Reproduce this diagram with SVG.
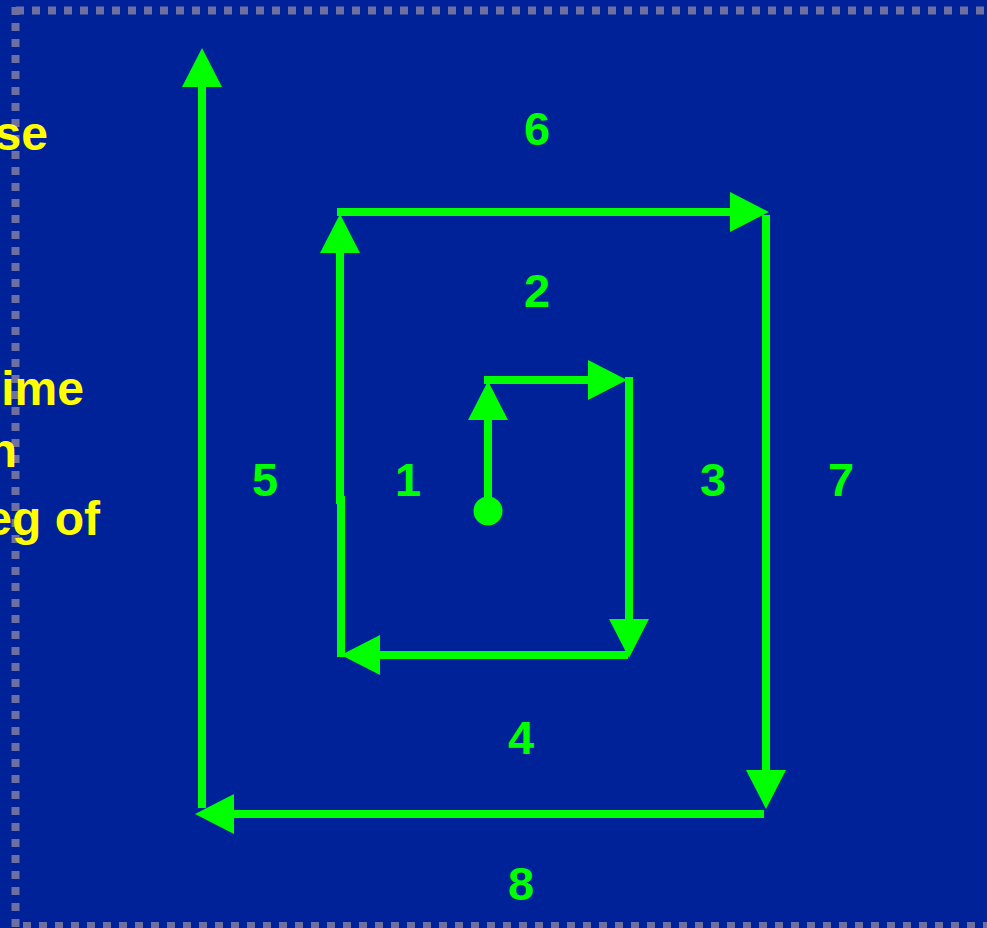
<svg xmlns="http://www.w3.org/2000/svg" width="987" height="928" viewBox="0 0 987 928">
<defs>
<style>
.bd{stroke:#7070A0;stroke-width:8;stroke-dasharray:8 8;fill:none}
.ln{stroke:#00FF00;stroke-width:8;fill:none;marker-end:url(#ah)}
.num{font-family:"Liberation Sans",Arial,sans-serif;font-weight:bold;font-size:47px;fill:#00FF00;text-anchor:middle}
.yt{font-family:"Liberation Sans",Arial,sans-serif;font-weight:bold;font-size:48px;fill:#FFFF00;text-anchor:end}
</style>
<marker id="ah" markerUnits="userSpaceOnUse" markerWidth="40" markerHeight="40" viewBox="0 0 40 40" refX="18" refY="20" orient="auto">
<path d="M0,0 L39,20 L0,40 Z" fill="#00FF00"/>
</marker>
</defs>
<rect x="0" y="0" width="987" height="928" fill="#002299"/>
<g id="border">
<line class="bd" x1="16" y1="10.5" x2="1000" y2="10.5"/>
<line class="bd" x1="15.5" y1="7" x2="15.5" y2="930"/>
<line class="bd" x1="23" y1="926" x2="1000" y2="926"/>
</g>
<g id="side-text">
<text class="yt" x="48" y="150">se</text>
<text class="yt" x="84" y="405">ime</text>
<text class="yt" x="17" y="467">n</text>
<text class="yt" x="100" y="535">eg of</text>
</g>
<g id="connectors">
<circle cx="488" cy="511" r="14.5" fill="#00FF00"/>
<path class="ln" d="M488,511 V402"/>
<path class="ln" d="M484,380 H606"/>
<path class="ln" d="M629,377 V637"/>
<path class="ln" d="M628,655 H362"/>
<path class="ln" d="M341,657 V500 H340 V235"/>
<path class="ln" d="M337,212 H748"/>
<path class="ln" d="M766,215 V788"/>
<path class="ln" d="M764,814 H216"/>
<path class="ln" d="M202,808 V69"/>
</g>
<g id="labels">
<text id="n1" class="num" x="408" y="496">1</text>
<text id="n2" class="num" x="537" y="307">2</text>
<text id="n3" class="num" x="713" y="496">3</text>
<text id="n4" class="num" x="521" y="754">4</text>
<text id="n5" class="num" x="265" y="496">5</text>
<text id="n6" class="num" x="537" y="145">6</text>
<text id="n7" class="num" x="841" y="496">7</text>
<text id="n8" class="num" x="521" y="900">8</text>
</g>
</svg>
